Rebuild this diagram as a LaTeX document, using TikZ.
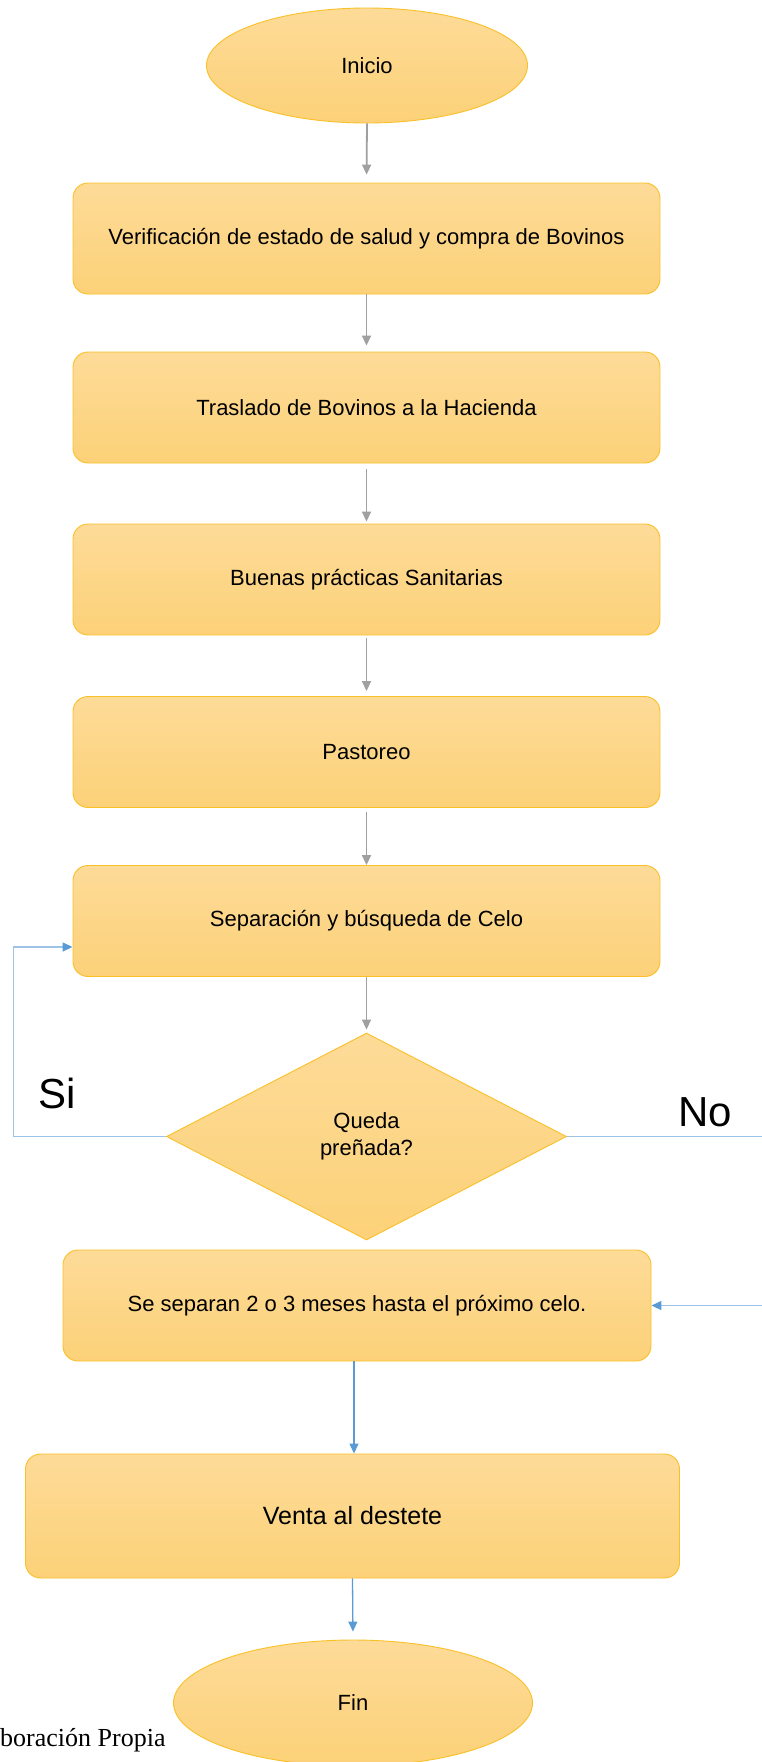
\documentclass[tikz,border=0pt]{standalone}
\usepackage{fontspec}
\setmainfont{Liberation Sans}
\newfontfamily\timesf{Liberation Serif}
\usetikzlibrary{shapes.geometric,arrows.meta}
\definecolor{boxtop}{RGB}{253,219,152}
\definecolor{boxbot}{RGB}{252,209,120}
\definecolor{boxline}{RGB}{250,192,40}
\definecolor{grayarr}{RGB}{160,160,160}
\definecolor{bluearr}{RGB}{91,155,213}
\definecolor{lightblue}{RGB}{157,195,230}
\begin{document}
\begin{tikzpicture}[x=1pt,y=-1pt,
  shapebase/.style={draw=boxline, line width=0.9pt, top color=boxtop, bottom color=boxbot, inner sep=0pt, text=black},
  proc/.style={shapebase, rounded corners=15pt, minimum width=587pt, minimum height=111pt, font=\fontsize{22}{27}\selectfont},
  term/.style={shapebase, ellipse, minimum width=321pt, minimum height=115pt, font=\fontsize{22}{27}\selectfont},
  dec/.style={shapebase, diamond, minimum width=400pt, minimum height=207pt, align=center, font=\fontsize{22}{27}\selectfont},
  lbl/.style={inner sep=0pt, font=\fontsize{42}{48}\selectfont},
  garrow/.style={draw=grayarr, line width=1.8pt, -{Triangle[length=10pt,width=9pt]}},
  bline/.style={draw=bluearr, line width=1.3pt},
  lline/.style={draw=lightblue, line width=1.5pt},
  barrow/.style={bline, -{Triangle[length=10pt,width=9pt]}},
  larrow/.style={lline, -{Triangle[length=10pt,width=9pt,color=bluearr,fill=bluearr]}}
]
\useasboundingbox (0,0) rectangle (762,1762);
\clip (0,0) rectangle (762,1762);

\node[term] (inicio) at (367,65.5) {Inicio};
\node[proc] (b1) at (366.5,238.5) {Verificación de estado de salud y compra de Bovinos};
\node[proc] (b2) at (366.5,407.5) {Traslado de Bovinos a la Hacienda};
\node[proc] (b3) at (366.5,579.5) {Buenas prácticas Sanitarias};
\node[proc] (b4) at (366.5,752) {Pastoreo};
\node[proc] (b5) at (366.5,921) {Separación y búsqueda de Celo};
\node[dec] (dec) at (366.5,1136.5) {Queda\\preñada?};
\node[proc, minimum width=588pt] (b6) at (357,1305.5) {Se separan 2 o 3 meses hasta el próximo celo.};
\node[proc, minimum width=654pt, minimum height=124pt, font=\fontsize{25}{30}\selectfont] (b7) at (352.5,1516) {Venta al destete};
\node[term, minimum width=359pt, minimum height=126pt] (fin) at (353,1703) {Fin};
\node[inner sep=0pt, anchor=west, font=\timesf\fontsize{26}{30}\selectfont] (src) at (0,1740) {boración Propia};
\node[lbl] (si) at (57,1093) {Si};
\node[lbl] (no) at (705,1112) {No};

\draw[garrow, shorten >=8pt] (inicio.south) -- (b1.north);
\draw[garrow, shorten >=6pt] (b1.south) -- (b2.north);
\draw[garrow, shorten <=6pt, shorten >=2pt] (b2.south) -- (b3.north);
\draw[garrow, shorten <=3pt, shorten >=5pt] (b3.south) -- (b4.north);
\draw[garrow, shorten <=4pt] (b4.south) -- (b5.north);
\draw[garrow, shorten >=3pt] (b5.south) -- (dec.north);

\coordinate (siL) at (13.5,1136.5);
\coordinate (siT) at (13.5,947);
\draw[larrow] (dec.west) -- (siL) -- (siT) -- (siT -| b5.west);

\coordinate (noR) at (762,1136.5);
\draw[lline] (dec.east) -- (noR);
\coordinate (noIn) at (762,1305.5);
\draw[larrow] (noIn) -- (b6.east);

\draw[barrow] ([xshift=-3pt]b6.south) -- ([xshift=-3pt]b6.south |- b7.north);
\draw[barrow, shorten >=8pt] (b7.south) -- (fin.north);
\end{tikzpicture}
\end{document}
